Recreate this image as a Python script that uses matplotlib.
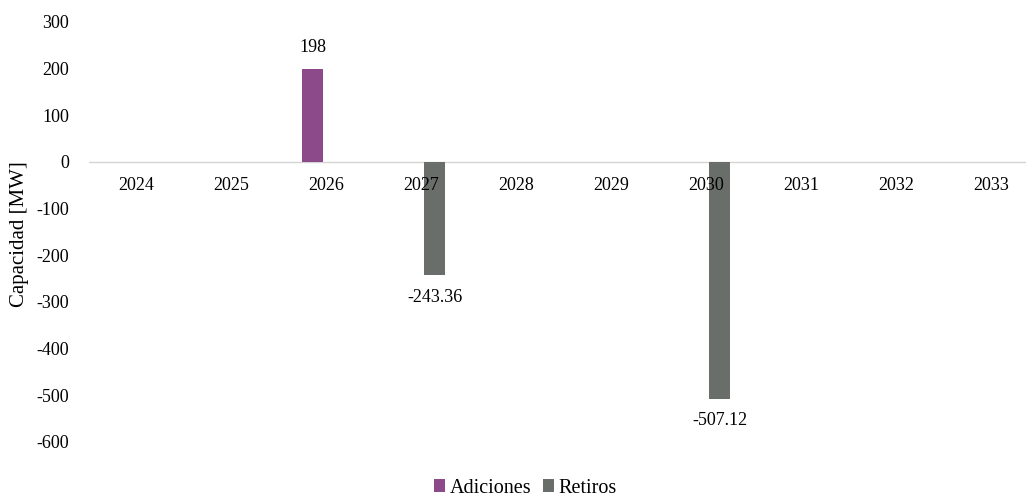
import matplotlib.pyplot as plt
import numpy as np

years = ["2024", "2025", "2026", "2027", "2028", "2029", "2030", "2031", "2032", "2033"]
adiciones = [0, 0, 198, 0, 0, 0, 0, 0, 0, 0]
retiros = [0, 0, 0, -243.36, 0, 0, -507.12, 0, 0, 0]
yticks = [300, 200, 100, 0, -100, -200, -300, -400, -500, -600]

purple = "#8c4a8a"
gray = "#6a6e6b"

plt.rcParams["font.family"] = ["Liberation Serif", "DejaVu Serif"]

fig = plt.figure(figsize=(10.26, 4.96), dpi=100)
ax = fig.add_axes([0.0863, 0.109, 0.926, 0.847])

x = np.arange(len(years))
w = 0.22
off = 0.142
ax.bar(x - off, adiciones, w, color=purple, label="Adiciones")
ax.bar(x + off, retiros, w, color=gray, label="Retiros")

# value labels only where there is a bar
for i, v in enumerate(adiciones):
    if v != 0:
        ax.annotate(f"{v:g}", (x[i] - off, v), xytext=(0, 10), textcoords="offset points",
                    ha="center", va="bottom", fontsize=13)
for i, v in enumerate(retiros):
    if v != 0:
        ax.annotate(f"{v:.2f}", (x[i] + off, v), xytext=(0, -10), textcoords="offset points",
                    ha="center", va="top", fontsize=13)

ax.axhline(0, color="#d4d4d4", lw=1, zorder=0.5)
ax.set_xlim(-0.5, len(years) - 0.5)
ax.set_ylim(-600, 300)
ax.set_yticks(yticks)
ax.set_yticklabels([str(t) for t in yticks])
ax.set_xticks(x)
ax.set_xticklabels(years)
for s in ax.spines.values():
    s.set_visible(False)
ax.spines["bottom"].set_position(("data", 0))
ax.tick_params(axis="x", length=0, pad=11, labelsize=13)
ax.tick_params(axis="y", length=0, pad=14, labelsize=13)
ax.set_ylabel("Capacidad [MW]", fontsize=15, va="center")
ax.yaxis.set_label_coords(-0.073, 0.495)

fig.legend(loc="center", bbox_to_anchor=(0.512, 0.016), ncol=2, frameon=False, fontsize=14.5,
           handlelength=0.55, handleheight=0.55, handletextpad=0.2, columnspacing=0.6)

fig.savefig("out.png", dpi=100)
